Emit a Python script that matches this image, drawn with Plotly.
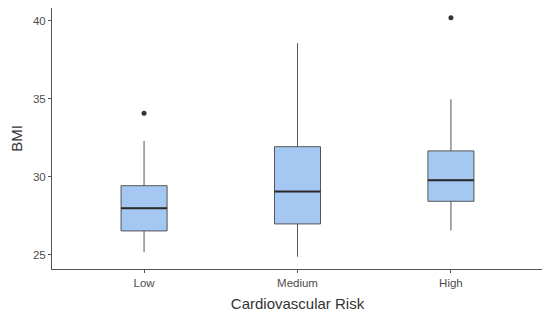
import plotly.graph_objects as go

categories = ["Low", "Medium", "High"]
q1 = [26.54, 26.99, 28.44]
median = [27.99, 29.06, 29.79]
q3 = [29.44, 31.94, 31.67]
lower_whisker = [25.17, 24.89, 26.56]
upper_whisker = [32.31, 38.57, 34.98]
outlier_cat = [0, 2]
outlier_val = [34.08, 40.21]
y_ticks = [25, 30, 35, 40]

BOX_W = 0.3
positions = list(range(len(categories)))

fig = go.Figure()
fig.add_trace(go.Box(
    x=positions, q1=q1, median=median, q3=q3,
    lowerfence=lower_whisker, upperfence=upper_whisker,
    width=BOX_W, fillcolor="#a4c8f2",
    line=dict(color="#555555", width=1),
    whiskerwidth=0, boxpoints=False, showlegend=False, hoverinfo="skip",
))
# median lines (thicker, darker as in ggplot)
mx, my = [], []
for p, m in zip(positions, median):
    mx += [p - BOX_W / 2, p + BOX_W / 2, None]
    my += [m, m, None]
fig.add_trace(go.Scatter(x=mx, y=my, mode="lines",
                         line=dict(color="#2a2a2a", width=2),
                         showlegend=False, hoverinfo="skip"))
fig.add_trace(go.Scatter(x=outlier_cat, y=outlier_val, mode="markers",
                         marker=dict(color="#333333", size=5),
                         showlegend=False, hoverinfo="skip"))

axis_font = dict(family="Liberation Sans, Arial, sans-serif", size=11.5, color="#4d4d4d")
fig.update_layout(
    width=550, height=320,
    margin=dict(l=44, r=15, t=0, b=59),
    paper_bgcolor="white", plot_bgcolor="white",
    font=dict(family="Liberation Sans, Arial, sans-serif"),
    xaxis=dict(
        range=[-0.6, 2.6], tickvals=positions, ticktext=categories,
        showgrid=False, zeroline=False, showline=True, linecolor="#555555", linewidth=1,
        ticks="outside", ticklen=3, tickcolor="#555555", tickfont=axis_font,
        automargin=False,
        title=dict(text="Cardiovascular Risk", font=dict(size=15, color="#333333"), standoff=10),
    ),
    yaxis=dict(
        range=[24.1, 40.83], tickvals=y_ticks,
        showgrid=False, zeroline=False, showline=True, linecolor="#555555", linewidth=1,
        ticks="outside", ticklen=3, tickcolor="#555555", tickfont=axis_font,
        automargin=False,
        title=dict(text="BMI", font=dict(size=15, color="#333333"), standoff=10),
    ),
)
fig.write_html("out.html")
